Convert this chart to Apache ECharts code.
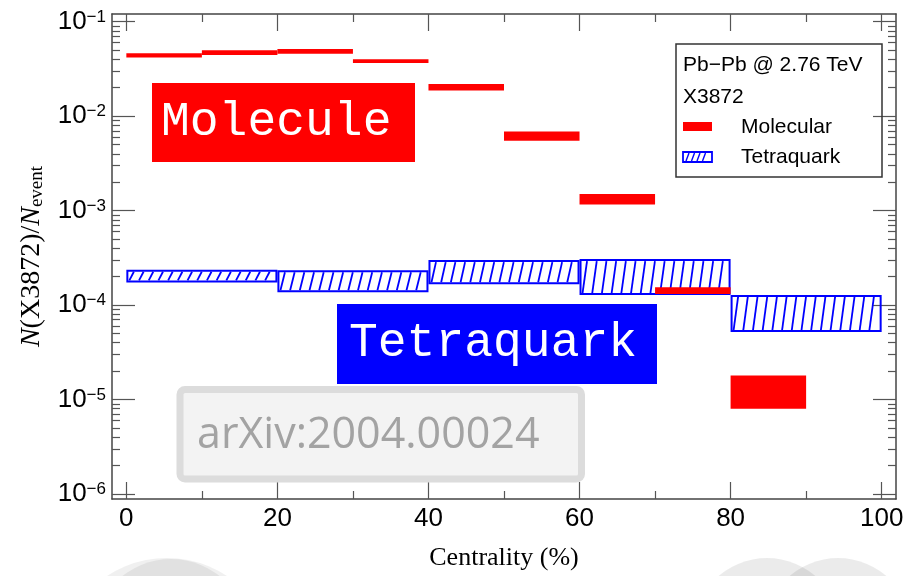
<!DOCTYPE html>
<html>
<head>
<meta charset="utf-8">
<script src="https://cdn.jsdelivr.net/npm/echarts@6/dist/echarts.min.js"></script>
<style>
html, body { margin: 0; padding: 0; background: #fff; }
#chart { width: 903px; height: 576px; }
</style>
</head>
<body>
<div id="chart"></div>
<script>
// X(3872) yield per event vs centrality, Pb-Pb 2.76 TeV
var molBinLo = [0, 10, 20, 30, 40, 50, 60, 70, 80];
var molBinHi = [10, 20, 30, 40, 50, 60, 70, 80, 90];
var molLow = [0.0417, 0.0445, 0.0459, 0.0366, 0.0187, 0.0055, 0.00116, 0.000131, 8.0e-6];
var molHigh = [0.0464, 0.0499, 0.0515, 0.0401, 0.0219, 0.0069, 0.0015, 0.000154, 1.8e-5];

var tetBinLo = [0, 20, 40, 60, 80];
var tetBinHi = [20, 40, 60, 80, 100];
var tetLow = [1.78e-4, 1.40e-4, 1.70e-4, 1.31e-4, 5.3e-5];
var tetHigh = [2.31e-4, 2.28e-4, 2.92e-4, 3.0e-4, 1.25e-4];

var xMajorTicks = [0, 20, 40, 60, 80, 100];
var xMinorTicks = [10, 30, 50, 70, 90];
var yMajorTicks = [1e-6, 1e-5, 1e-4, 1e-3, 1e-2, 1e-1];
var yMantissas = [2, 3, 4, 5, 6, 7, 8, 9];

var RED = '#ff0000';
var BLUE = '#0000ff';
var lineColor = '#444';
var tickColor = '#555';
var xMin = -1.9, xMax = 101.9;
var yMin = 8.85e-7, yMax = 0.1207;

var yMinorTicks = [];
yMajorTicks.forEach(function (p) {
	yMantissas.forEach(function (m) {
		yMinorTicks.push(m * p);
	});
});

function mkX(position, ticks, len, main) {
	return {
		type: 'value', position: position, min: xMin, max: xMax,
		axisLine: { show: main, onZero: false, lineStyle: { color: lineColor, width: 1.5 } },
		axisTick: { show: true, inside: true, length: len, customValues: ticks, lineStyle: { color: tickColor, width: 1.2 } },
		axisLabel: {
			show: main && position == 'bottom', customValues: xMajorTicks, margin: 7,
			fontSize: 26, fontFamily: 'Liberation Sans, Arial', color: '#000'
		},
		splitLine: { show: false }
	};
}

function mkY(position, ticks, len, main) {
	return {
		type: 'log', logBase: 10, position: position, min: yMin, max: yMax,
		axisLine: { show: main, onZero: false, lineStyle: { color: lineColor, width: 1.5 } },
		axisTick: { show: true, inside: true, length: len, customValues: ticks, lineStyle: { color: tickColor, width: 1.2 } },
		axisLabel: {
			show: main && position == 'left', customValues: yMajorTicks, margin: 6,
			formatter: function (v) {
				var e = Math.round(Math.log10(v));
				return '{b|10}{s|\u2212' + (-e) + '}';
			},
			rich: {
				b: { fontSize: 26, lineHeight: 26, fontFamily: 'Liberation Sans, Arial', color: '#000' },
				s: { fontSize: 17, lineHeight: 17, verticalAlign: 'top', fontFamily: 'Liberation Sans, Arial', color: '#000' }
			}
		},
		splitLine: { show: false }
	};
}

var xAxes = [
	mkX('bottom', xMajorTicks, 17, true),
	mkX('bottom', xMinorTicks, 8, false),
	mkX('top', xMajorTicks, 17, true),
	mkX('top', xMinorTicks, 8, false)
];
xAxes[0].name = 'Centrality (%)';
xAxes[0].nameLocation = 'middle';
xAxes[0].nameGap = 46;
xAxes[0].nameTextStyle = { fontSize: 26, fontFamily: 'Liberation Serif, Times New Roman', color: '#000' };

var yAxes = [
	mkY('left', yMajorTicks, 23, true),
	mkY('left', yMinorTicks, 8, false),
	mkY('right', yMajorTicks, 23, true),
	mkY('right', yMinorTicks, 8, false)
];
yAxes[0].name = '{i|N}{n|(X3872)/}{i|N}{s|event}';
yAxes[0].nameLocation = 'middle';
yAxes[0].nameRotate = 90;
yAxes[0].nameGap = 64;
yAxes[0].nameTextStyle = {
	rich: {
		i: { fontSize: 28, lineHeight: 30, fontStyle: 'italic', fontFamily: 'Liberation Serif', color: '#000' },
		n: { fontSize: 28, lineHeight: 30, fontFamily: 'Liberation Serif', color: '#000' },
		s: { fontSize: 19, lineHeight: 16, verticalAlign: 'bottom', fontFamily: 'Liberation Serif', color: '#000' }
	}
};

function hatchLines(x0, y0, x1, y1, step, dx, width) {
	var out = [];
	for (var xb = x0 + 3; xb + dx <= x1 - 1.5; xb += step) {
		out.push({
			type: 'line',
			shape: { x1: xb, y1: y1 - 1, x2: xb + dx, y2: y0 + 1 },
			style: { stroke: BLUE, lineWidth: width }
		});
	}
	return out;
}

var tetData = tetBinLo.map(function (lo, i) { return [lo, tetBinHi[i], tetLow[i], tetHigh[i]]; });
var molData = molBinLo.map(function (lo, i) { return [lo, molBinHi[i], molLow[i], molHigh[i]]; });

var option = {
	animation: false,
	backgroundColor: '#fff',
	grid: { left: 112, top: 14, right: 7, bottom: 77, containLabel: false, outerBoundsMode: 'none' },
	xAxis: xAxes,
	yAxis: yAxes,
	series: [{
		name: 'Tetraquark',
		type: 'custom',
		xAxisIndex: 0, yAxisIndex: 0,
		data: tetData,
		encode: { x: [0, 1], y: [2, 3] },
		renderItem: function (params, api) {
			var p0 = api.coord([api.value(0), api.value(3)]);
			var p1 = api.coord([api.value(1), api.value(2)]);
			var kids = hatchLines(p0[0], p0[1], p1[0], p1[1], 9.7, 4.5, 1.8);
			kids.push({
				type: 'rect',
				shape: { x: p0[0] + 1, y: p0[1], width: p1[0] - p0[0] - 2, height: p1[1] - p0[1] },
				style: { fill: 'none', stroke: BLUE, lineWidth: 2 }
			});
			return { type: 'group', children: kids };
		}
	}, {
		name: 'Molecular',
		type: 'custom',
		xAxisIndex: 0, yAxisIndex: 0,
		data: molData,
		encode: { x: [0, 1], y: [2, 3] },
		renderItem: function (params, api) {
			var p0 = api.coord([api.value(0), api.value(3)]);
			var p1 = api.coord([api.value(1), api.value(2)]);
			return {
				type: 'rect',
				shape: { x: p0[0], y: p0[1], width: p1[0] - p0[0], height: p1[1] - p0[1] },
				style: { fill: RED }
			};
		}
	}],
	graphic: [
		// legend box
		{ type: 'rect', z: 10, shape: { x: 676, y: 44, width: 206, height: 133 }, style: { fill: 'none', stroke: '#333', lineWidth: 1.5 } },
		{ type: 'text', z: 10, x: 683, y: 65, style: { text: 'Pb\u2212Pb @ 2.76 TeV', fontSize: 21, fontFamily: 'Liberation Sans, Arial', fill: '#000', verticalAlign: 'middle' } },
		{ type: 'text', z: 10, x: 683, y: 97, style: { text: 'X3872', fontSize: 21, fontFamily: 'Liberation Sans, Arial', fill: '#000', verticalAlign: 'middle' } },
		{ type: 'rect', z: 10, shape: { x: 683, y: 122, width: 29, height: 9 }, style: { fill: RED } },
		{ type: 'text', z: 10, x: 741, y: 127, style: { text: 'Molecular', fontSize: 21, fontFamily: 'Liberation Sans, Arial', fill: '#000', verticalAlign: 'middle' } },
		{ type: 'group', z: 10, children: hatchLines(683, 152, 712, 162, 5.5, 3, 1.4).concat([
			{ type: 'rect', shape: { x: 683, y: 152, width: 29, height: 10 }, style: { fill: 'none', stroke: BLUE, lineWidth: 1.8 } }
		]) },
		{ type: 'text', z: 10, x: 741, y: 157, style: { text: 'Tetraquark', fontSize: 21, fontFamily: 'Liberation Sans, Arial', fill: '#000', verticalAlign: 'middle' } },

		// annotation boxes
		{ type: 'rect', z: 10, shape: { x: 152, y: 83, width: 263, height: 79 }, style: { fill: RED } },
		{ type: 'text', z: 11, x: 161, y: 122, style: { text: 'Molecule', fontSize: 48, fontFamily: 'Liberation Mono, Courier New, monospace', fill: '#fff', verticalAlign: 'middle' } },
		{ type: 'rect', z: 10, shape: { x: 337, y: 304, width: 320, height: 80 }, style: { fill: BLUE } },
		{ type: 'text', z: 11, x: 349, y: 343, style: { text: 'Tetraquark', fontSize: 48, fontFamily: 'Liberation Mono, Courier New, monospace', fill: '#fff', verticalAlign: 'middle' } },
		{ type: 'rect', z: 10, shape: { x: 180, y: 389.5, width: 401.5, height: 89.5, r: 5 }, style: { fill: '#f3f3f3', stroke: '#dcdcdc', lineWidth: 7 } },
		{ type: 'text', z: 11, x: 197, y: 436, style: { text: 'arXiv:2004.00024', fontSize: 43, fontFamily: 'Open Sans, Noto Sans, sans-serif', fill: '#a3a3a3', verticalAlign: 'middle' } },

		// faint circles at the bottom edge
		{ type: 'circle', z: 1, shape: { cx: 167, cy: 667, r: 109 }, style: { fill: 'rgba(0,0,0,0.06)' } },
		{ type: 'circle', z: 1, shape: { cx: 171, cy: 637, r: 78 }, style: { fill: 'rgba(0,0,0,0.06)' } },
		{ type: 'circle', z: 1, shape: { cx: 767, cy: 632, r: 74 }, style: { fill: 'rgba(0,0,0,0.08)' } },
		{ type: 'circle', z: 1, shape: { cx: 838, cy: 632, r: 74 }, style: { fill: 'rgba(0,0,0,0.08)' } }
	]
};

var chart = echarts.init(document.getElementById('chart'));
chart.setOption(option);
</script>
</body>
</html>
